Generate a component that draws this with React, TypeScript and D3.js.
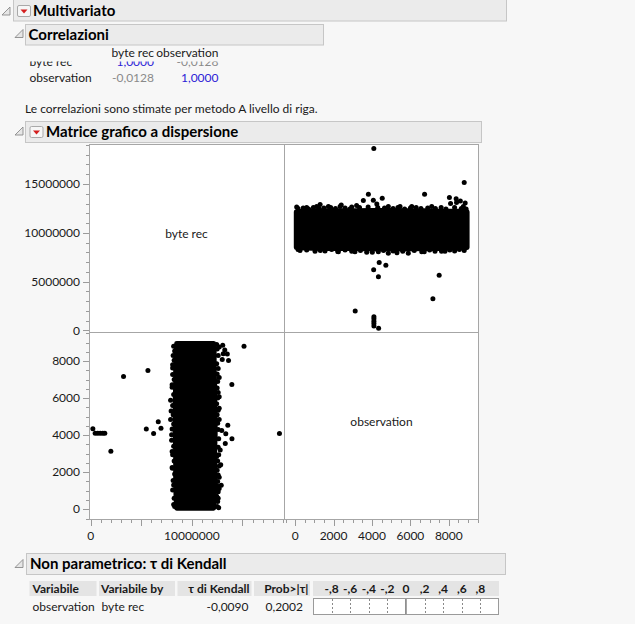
import React from 'react';
import * as d3 from 'd3';

// ---------- data ----------
const variables = ['byte rec', 'observation'];
const corrValues = [
  [1, -0.0128],
  [-0.0128, 1],
];
const corrNote = 'Le correlazioni sono stimate per metodo A livello di riga.';

// axis ranges (byte rec, observation)
const byteDomain = [-160000, 19100000];
const obsDomain = [-580, 9570];
const byteYLabels = [0, 5000000, 10000000, 15000000];
const byteXLabels = [0, 10000000];
const byteMajor = [0, 5000000, 10000000, 15000000];
const obsLabels = [0, 2000, 4000, 6000, 8000];

// dense band of points: envelope (observation, byte rec in millions)
const bandObs = [60, 500, 1300, 2200, 3100, 4000, 4900, 5800, 6700, 7600, 8500, 8950];
const bandLow = [8.5, 8.45, 8.4, 8.4, 8.4, 8.35, 8.35, 8.35, 8.4, 8.4, 8.45, 8.5];
const bandHigh = [12.15, 12.2, 12.25, 12.25, 12.25, 12.3, 12.3, 12.25, 12.25, 12.2, 12.2, 12.15];

// points along the upper edge of the band
const topObs = [80, 150, 420, 600, 700, 950, 1120, 1250, 1500, 1730, 1850, 2100, 2340, 2600, 2850, 2945, 3200, 3350, 3550, 3800,
  4070, 4300, 4650, 4850, 5100, 5350, 5460, 5700, 6000, 6070, 6300, 6550, 6900, 7110, 7300, 7600, 7850, 8090, 8300, 8650, 8755, 8900];
const topByte = [12.65, 12.5, 12.55, 12.6, 12.45, 12.6, 12.7, 12.5, 12.55, 12.7, 12.6, 12.5, 12.7, 12.55, 12.45, 12.65, 12.8, 12.6, 13.3, 12.65,
  13.35, 12.6, 12.55, 12.7, 12.5, 12.6, 12.7, 12.45, 12.55, 12.7, 12.6, 12.5, 12.55, 12.7, 12.5, 12.6, 12.45, 13.0, 12.6, 12.5, 12.7, 12.45];
// points along the lower edge of the band
const lowObs = [150, 255, 600, 1035, 1313, 1555, 1900, 2216, 2250, 2600, 2945, 3113, 3400, 3725, 4016, 4330, 4600, 4850, 5100, 5300,
  5600, 5890, 6200, 6590, 6720, 7000, 7280, 7620, 7800, 8050, 8300, 8550, 8800];
const lowByte = [8.3, 8.2, 8.25, 8.1, 8.2, 8.15, 8.3, 8.08, 8.05, 8.25, 8.1, 8.05, 8.2, 8.0, 8.0, 8.05, 8.2, 7.9, 8.15, 7.95,
  8.1, 7.9, 8.2, 8.05, 8.05, 8.25, 8.1, 8.1, 8.1, 8.25, 8.15, 8.3, 8.2];
// points on the right of the band in the transposed view
const extraObs = [1300, 2400, 4250, 8400, 8600, 8850];
const extraByte = [12.9, 12.85, 12.95, 13.1, 13.25, 13.05];

// isolated points
const outObs = [4095, 8800, 3812, 6737, 8030, 8380, 4533, 4375, 4722, 4087, 4335, 7497, 7170, 3126, 4345, 4100, 4100, 4100, 4100, 4100];
const outByte = [18.65, 15.15, 13.96, 13.95, 13.62, 13.5, 13.55, 6.95, 6.68, 6.22, 5.5, 5.66, 3.25, 2.0, 0.22, 0.45, 0.7, 0.95, 1.2, 1.4];

// Kendall
const kendallVar = 'observation';
const kendallBy = 'byte rec';
const kendallTau = -0.009;
const kendallProb = 0.2002;
const kendallTicks = [-0.8, -0.6, -0.4, -0.2, 0, 0.2, 0.4, 0.6, 0.8];

// ---------- layout ----------
const W = 635;
const H = 624;
const X0 = 89, XM = 284, X1 = 479;
const Y0 = 144, YM = 332, Y1 = 520;
const FONT = 'Lato, "Noto Sans", sans-serif';
const R = 2.5;

const fmtIt = (v: number, d: number) => v.toFixed(d).replace('.', ',');
const fmtBar = (v: number) => (v === 0 ? '0' : (v < 0 ? '-' : '') + ',' + Math.round(Math.abs(v) * 10));

function Disclosure({ x, y }: { x: number; y: number }) {
  return <path d={`M${x + 8},${y} L${x + 8},${y + 8} L${x},${y + 8} Z`} fill="#e6e6e6" stroke="#8a8a8a" strokeWidth={0.9} />;
}
function RedBtn({ x, y }: { x: number; y: number }) {
  return (
    <g>
      <rect x={x} y={y} width={13} height={11} rx={1.5} fill="#f6f6f6" stroke="#a9a9a9" />
      <path d={`M${x + 3},${y + 4} L${x + 10},${y + 4} L${x + 6.5},${y + 8} Z`} fill="#d41f1f" />
    </g>
  );
}
function Header({ x, y, w, h, text, tx, ty, btn }: any) {
  return (
    <g>
      <rect x={x} y={y} width={w} height={h} fill="#ebebeb" stroke="#c6c6c6" />
      <text x={tx} y={ty} fontFamily={FONT} fontWeight={700} fontSize={15} fill="#000">{text}</text>
      {btn ? <RedBtn x={btn[0]} y={btn[1]} /> : null}
    </g>
  );
}

export default function App() {
  const byteX = d3.scaleLinear().domain(byteDomain).range([X0, XM]);
  const byteY = d3.scaleLinear().domain(byteDomain).range([YM, Y0]);
  const obsX = d3.scaleLinear().domain(obsDomain).range([XM, X1]);
  const obsY = d3.scaleLinear().domain(obsDomain).range([Y1, YM]);

  const idx = d3.range(bandObs.length);
  const areaTR = d3.area<number>()
    .x((i) => obsX(bandObs[i]))
    .y0((i) => byteY(bandLow[i] * 1e6))
    .y1((i) => byteY(bandHigh[i] * 1e6))(idx) || '';
  const areaBL = d3.area<number>()
    .y((i) => obsY(bandObs[i]))
    .x0((i) => byteX(bandLow[i] * 1e6))
    .x1((i) => byteX(bandHigh[i] * 1e6))(idx) || '';

  const pts = [
    ...outObs.map((o, i) => [o, outByte[i] * 1e6]),
    ...topObs.map((o, i) => [o, topByte[i] * 1e6]),
    ...lowObs.map((o, i) => [o, lowByte[i] * 1e6]),
    ...extraObs.map((o, i) => [o, extraByte[i] * 1e6]),
  ];

  const byteMinor = d3.range(0, 19000001, 1000000);
  const obsMinor = d3.range(-500, 9501, 500);

  const tickCol = '#9a9a9a';
  const frameCol = '#a6a6a6';

  const kx = d3.scaleLinear().domain([-1, 1]).range([313, 499]);

  return (
    <svg width={W} height={H} style={{ position: 'fixed', left: 0, top: 0, display: 'block' }}>
      <defs>
        <clipPath id="cTR"><rect x={XM} y={Y0} width={X1 - XM} height={YM - Y0} /></clipPath>
        <clipPath id="cBL"><rect x={X0} y={YM} width={XM - X0} height={Y1 - YM} /></clipPath>
        <clipPath id="cRow1"><rect x={0} y={61.5} width={400} height={10} /></clipPath>
      </defs>
      <rect x={0} y={0} width={W} height={H} fill="#f7f7f7" />

      {/* headers */}
      <Disclosure x={2} y={7} />
      <Header x={13.5} y={-1} w={493} h={22} text="Multivariato" tx={33} ty={16} btn={[17.5, 5.5]} />
      <Disclosure x={15} y={29.5} />
      <Header x={25.5} y={24.5} w={298} h={20.5} text="Correlazioni" tx={28.5} ty={39.5} />

      {/* correlation table */}
      <g fontFamily={FONT} fontSize={12}>
        <text x={154} y={57} textAnchor="end" fill="#1a1a1a">{variables[0]}</text>
        <text x={218.5} y={57} textAnchor="end" fill="#1a1a1a">{variables[1]}</text>
        {variables.map((v, r) => (
          <g key={v} clipPath={r === 0 ? 'url(#cRow1)' : undefined}>
            <text x={29.5} y={66 + r * 15.5} fill="#1a1a1a">{v}</text>
            {corrValues[r].map((c, k) => (
              <text key={k} x={154 + k * 64.5} y={66 + r * 15.5} textAnchor="end" fill={c === 1 ? '#2b22d6' : '#8a8a8a'}>
                {fmtIt(c, 4)}
              </text>
            ))}
          </g>
        ))}
        <text x={25} y={113} fill="#1a1a1a">{corrNote}</text>
      </g>

      <Disclosure x={15} y={127} />
      <Header x={25.5} y={121.5} w={456} h={21} text="Matrice grafico a dispersione" tx={46} ty={137} btn={[30, 126.5]} />

      {/* scatter matrix cells */}
      <rect x={X0} y={Y0} width={X1 - X0} height={Y1 - Y0} fill="#fff" />
      <g clipPath="url(#cTR)">
        <path d={areaTR} fill="#000" stroke="#000" strokeWidth={R * 2} strokeLinejoin="round" />
        {pts.map((p, i) => <circle key={i} cx={obsX(p[0])} cy={byteY(p[1])} r={R} fill="#000" />)}
      </g>
      <g clipPath="url(#cBL)">
        <path d={areaBL} fill="#000" stroke="#000" strokeWidth={R * 2} strokeLinejoin="round" />
        {pts.map((p, i) => <circle key={i} cx={byteX(p[1])} cy={obsY(p[0])} r={R} fill="#000" />)}
      </g>
      <rect x={X0 + 0.5} y={Y0 + 0.5} width={X1 - X0 - 1} height={Y1 - Y0 - 1} fill="none" stroke={frameCol} />
      <line x1={XM + 0.5} x2={XM + 0.5} y1={Y0} y2={Y1} stroke={frameCol} />
      <line x1={X0} x2={X1} y1={YM + 0.5} y2={YM + 0.5} stroke={frameCol} />

      <g fontFamily={FONT} fontSize={12} fill="#1a1a1a">
        <text x={(X0 + XM) / 2} y={(Y0 + YM) / 2} textAnchor="middle">{variables[0]}</text>
        <text x={(XM + X1) / 2} y={(YM + Y1) / 2} textAnchor="middle">{variables[1]}</text>
      </g>

      {/* axes ticks */}
      <g stroke={tickCol}>
        {byteMinor.map((v) => {
          const y = Math.round(byteY(v)) + 0.5;
          const maj = byteMajor.includes(v);
          return <line key={v} x1={maj ? X0 - 6 : X0 - 3} x2={X0} y1={y} y2={y} />;
        })}
        {obsMinor.map((v) => {
          const y = Math.round(obsY(v)) + 0.5;
          const maj = obsLabels.includes(v);
          return <line key={v} x1={maj ? X0 - 6 : X0 - 3} x2={X0} y1={y} y2={y} />;
        })}
        {byteMinor.map((v) => {
          const x = Math.round(byteX(v)) + 0.5;
          const maj = byteMajor.includes(v);
          return <line key={'b' + v} x1={x} x2={x} y1={Y1} y2={maj ? Y1 + 6 : Y1 + 3} />;
        })}
        {obsMinor.map((v) => {
          const x = Math.round(obsX(v)) + 0.5;
          const maj = obsLabels.includes(v);
          return <line key={'o' + v} x1={x} x2={x} y1={Y1} y2={maj ? Y1 + 6 : Y1 + 3} />;
        })}
      </g>
      <g fontFamily={FONT} fontSize={12} fill="#1a1a1a">
        {byteYLabels.map((v) => (
          <text key={v} x={X0 - 9} y={byteY(v)} dy="0.35em" textAnchor="end">{v}</text>
        ))}
        {obsLabels.map((v) => (
          <text key={v} x={X0 - 9} y={obsY(v)} dy="0.35em" textAnchor="end">{v}</text>
        ))}
        {byteXLabels.map((v) => (
          <text key={v} x={byteX(v)} y={540} textAnchor="middle">{v}</text>
        ))}
        {obsLabels.map((v) => (
          <text key={v} x={obsX(v)} y={540} textAnchor="middle">{v}</text>
        ))}
      </g>

      {/* Kendall */}
      <Disclosure x={15} y={559.5} />
      <Header x={26.5} y={553.5} w={479} h={21} text="Non parametrico: τ di Kendall" tx={30} ty={569} />
      <g fontFamily={FONT} fontSize={12}>
        <rect x={29.5} y={581} width={67} height={15} fill="#e4e4e4" />
        <rect x={99} y={581} width={76} height={15} fill="#e4e4e4" />
        <rect x={177.5} y={581} width={74} height={15} fill="#e4e4e4" />
        <rect x={254} y={581} width={56} height={15} fill="#e4e4e4" />
        <rect x={313} y={581} width={186} height={15} fill="#e4e4e4" />
        <g fontWeight={700} fill="#1a1a1a">
          <text x={32.5} y={593}>Variabile</text>
          <text x={101} y={593}>Variabile by</text>
          <text x={249.5} y={593} textAnchor="end">τ di Kendall</text>
          <text x={308.5} y={593} textAnchor="end">Prob&gt;|τ|</text>
          {kendallTicks.map((t) => (
            <text key={t} x={kx(t)} y={593} textAnchor="middle">{fmtBar(t)}</text>
          ))}
        </g>
        <g fill="#1a1a1a">
          <text x={32.5} y={611}>{kendallVar}</text>
          <text x={101.5} y={611}>{kendallBy}</text>
          <text x={248.5} y={611} textAnchor="end">{fmtIt(kendallTau, 4)}</text>
          <text x={303} y={611} textAnchor="end">{fmtIt(kendallProb, 4)}</text>
        </g>
        <rect x={313.5} y={598.5} width={185} height={16} fill="#fff" stroke="#9a9a9a" />
        {kendallTicks.filter((t) => t !== 0).map((t) => (
          <line key={t} x1={Math.round(kx(t)) + 0.5} x2={Math.round(kx(t)) + 0.5} y1={599} y2={614} stroke="#8a8a8a" strokeDasharray="2,2" />
        ))}
        <rect x={Math.min(kx(0), kx(kendallTau))} y={599} width={Math.max(1.5, Math.abs(kx(kendallTau) - kx(0)))} height={15} fill="#7a7a7a" />
      </g>
    </svg>
  );
}
